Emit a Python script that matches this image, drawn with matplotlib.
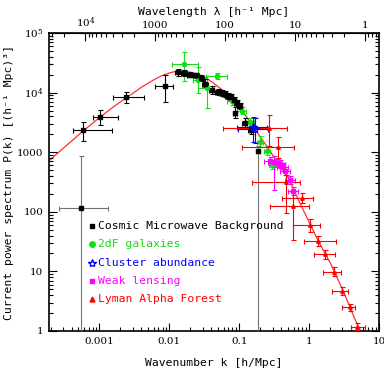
import numpy as np
import matplotlib
matplotlib.use("Agg")
import matplotlib.pyplot as plt

# model curve
curve_k = [1.9e-4, 3.0e-4, 5.8e-4, 1.0e-3, 1.5e-3, 2.0e-3, 3.0e-3, 4.0e-3, 5.3e-3, 6.5e-3,
           8.0e-3, 0.010, 0.0115, 0.013, 0.0145, 0.016, 0.018, 0.021, 0.025, 0.030,
           0.035, 0.042, 0.05, 0.06, 0.07, 0.085, 0.1, 0.12, 0.15, 0.2,
           0.25, 0.3, 0.4, 0.5, 0.7, 1.0, 1.4, 2.0, 2.5, 3.0, 3.8, 4.5, 5.5]
curve_P = [720, 1150, 2250, 3800, 5500, 7000, 9700, 12300, 15000, 17300,
           19500, 21300, 22300, 22900, 23000, 22900, 22500, 21700, 20500, 18800,
           17000, 14700, 12500, 10600, 9000, 7200, 5800, 4300, 3000, 1800,
           1250, 900, 580, 380, 160, 67, 30, 14, 8, 5.0, 2.6, 1.6, 1.0]

# CMB
cmb_k = [5.8e-4, 1.02e-3, 2.4e-3, 8.7e-3, 0.0135, 0.0162, 0.0198, 0.0241, 0.0284, 0.0324,
         0.0404, 0.0497, 0.0567, 0.0625, 0.069, 0.076, 0.084, 0.0927, 0.102, 0.0869,
         0.1205, 0.1455]
cmb_P = [2355, 3945, 8340, 13060, 21900, 21300, 20100, 19400, 17600, 13900,
         11070, 10230, 9840, 9480, 8780, 8280, 7510, 6690, 5960, 4600,
         3055, 2355]
cmb_klo = [4.25e-4, 8.2e-4, 1.55e-3, 6.25e-3, 0.0122, 0.0148, 0.0181, 0.0220, 0.0260, 0.0296,
           0.0370, 0.0455, 0.0520, 0.0575, 0.0635, 0.0700, 0.0775, 0.0855, 0.0940, 0.0820,
           0.1110, 0.1340]
cmb_khi = [1.53e-3, 1.83e-3, 4.4e-3, 0.0114, 0.0150, 0.0177, 0.0216, 0.0263, 0.0310, 0.0354,
           0.0440, 0.0540, 0.0615, 0.0680, 0.0750, 0.0825, 0.0910, 0.1005, 0.1105, 0.0920,
           0.1310, 0.1580]
cmb_Plo = [1560, 2860, 6760, 6870, 19300, 19000, 18000, 17400, 15600, 12300,
           9400, 9100, 8800, 8500, 7900, 7400, 6700, 5950, 5300, 3700,
           2510, 2030]
cmb_Phi = [3250, 5100, 10350, 19700, 24500, 23900, 22500, 21700, 19800, 16700,
           13000, 11500, 11000, 10600, 9800, 9300, 8400, 7500, 6700, 5750,
           3700, 2730]
# two CMB points whose lower error reaches the bottom
cmbw_k = [5.5e-4, 0.187]
cmbw_P = [117, 1047]
cmbw_klo = [2.6e-4, 0.175]
cmbw_khi = [1.32e-3, 0.196]
cmbw_Plo = [0.01, 0.01]
cmbw_Phi = [863, 1250]

# 2dF galaxies
tdf_k = [0.0162, 0.026, 0.0342, 0.0475, 0.0783, 0.108, 0.1423, 0.198, 0.251, 0.293]
tdf_P = [29900, 16200, 11950, 18750, 7310, 4970, 3250, 1500, 1060, 610]
tdf_klo = [0.011, 0.0218, 0.0256, 0.034, 0.066, 0.093, 0.125, 0.180, 0.225, 0.265]
tdf_khi = [0.0254, 0.030, 0.0436, 0.068, 0.092, 0.125, 0.162, 0.218, 0.280, 0.325]
tdf_Plo = [15700, 10000, 5520, 16600, 6300, 4300, 2800, 1200, 900, 520]
tdf_Phi = [48500, 26900, 18900, 21200, 8500, 5750, 3750, 1850, 1250, 720]

# cluster abundance
clu_k = [0.160, 0.166]
clu_P = [2600, 2450]
clu_klo = [0.092, 0.095]
clu_khi = [0.250, 0.255]
clu_Plo = [1500, 1450]
clu_Phi = [3900, 3700]

# weak lensing
wl_k = [0.279, 0.313, 0.346, 0.381, 0.421, 0.45, 0.53, 0.59]
wl_P = [711, 686, 659, 634, 565, 484, 342, 224]
wl_klo = [0.23, 0.26, 0.29, 0.32, 0.35, 0.38, 0.45, 0.50]
wl_khi = [0.33, 0.37, 0.41, 0.45, 0.50, 0.53, 0.62, 0.69]
wl_Plo = [600, 232, 560, 540, 480, 410, 290, 190]
wl_Phi = [840, 863, 780, 745, 665, 570, 405, 265]

# Lyman alpha forest
lya_k = [0.268, 0.357, 0.464, 0.78, 0.591, 1.024, 1.32, 1.71, 2.26, 2.96, 3.81, 4.91]
lya_P = [2520, 1200, 313, 168, 123, 60, 32.4, 19.4, 9.9, 4.74, 2.5, 1.18]
lya_klo = [0.058, 0.109, 0.152, 0.414, 0.279, 0.59, 0.85, 1.18, 1.58, 2.13, 2.96, 4.03]
lya_khi = [0.486, 0.611, 0.736, 1.14, 0.99, 1.42, 2.46, 2.33, 2.9, 3.61, 4.5, 6.25]
lya_Plo = [1270, 800, 95, 141, 33.6, 46.3, 26.7, 16.0, 8.4, 4.02, 2.19, 1.04]
lya_Phi = [4200, 1830, 414, 206, 224, 75.7, 39.3, 22.9, 12.0, 5.53, 2.84, 1.35]

xticks = [1e-3, 1e-2, 0.1, 1, 10]
xticklabels = ["0.001", "0.01", "0.1", "1", "10"]
yticks = [1, 10, 100, 1000, 1e4, 1e5]
yticklabels = ["1", "10", "100", "1000", r"$10^4$", r"$10^5$"]
lticks = [1e4, 1000, 100, 10, 1]
lticklabels = [r"$10^4$", "1000", "100", "10", "1"]

legend_names = ["Cosmic Microwave Background", "2dF galaxies", "Cluster abundance",
                "Weak lensing", "Lyman Alpha Forest"]

plt.rcParams["mathtext.fontset"] = "dejavuserif"
mono = "DejaVu Sans Mono"

fig = plt.figure(figsize=(3.84, 3.73), dpi=100)
ax = fig.add_axes([49 / 384, 1 - 331 / 373, 330 / 384, 298 / 373])
ax.set_xscale("log")
ax.set_yscale("log")

ax.plot(curve_k, curve_P, color="#ff3030", lw=0.9, zorder=1)


def errs(k, P, klo, khi, Plo, Phi):
    k = np.array(k); P = np.array(P)
    xe = [k - np.array(klo), np.array(khi) - k]
    ye = [P - np.array(Plo), np.array(Phi) - P]
    return k, P, xe, ye


def draw(k, P, klo, khi, Plo, Phi, color, marker, ms, ecolor=None, mfc=None):
    k, P, xe, ye = errs(k, P, klo, khi, Plo, Phi)
    ax.errorbar(k, P, xerr=xe, yerr=ye, fmt=marker, color=color, ms=ms,
                mfc=mfc if mfc else color, mec=color, ecolor=ecolor if ecolor else color,
                elinewidth=0.8, capsize=1.8, capthick=0.8, zorder=3)


draw(cmbw_k, cmbw_P, cmbw_klo, cmbw_khi, cmbw_Plo, cmbw_Phi, "black", "s", 2.5, ecolor="0.45")
draw(tdf_k, tdf_P, tdf_klo, tdf_khi, tdf_Plo, tdf_Phi, "#10e010", "o", 3)
draw(cmb_k, cmb_P, cmb_klo, cmb_khi, cmb_Plo, cmb_Phi, "black", "s", 2.5)
draw(clu_k, clu_P, clu_klo, clu_khi, clu_Plo, clu_Phi, "#0000ff", "*", 6, mfc="none")
draw(wl_k, wl_P, wl_klo, wl_khi, wl_Plo, wl_Phi, "#ff00ff", "s", 2.5)
draw(lya_k, lya_P, lya_klo, lya_khi, lya_Plo, lya_Phi, "#ff0000", "^", 2.5)

ax.set_xlim(1.9e-4, 10)
ax.set_ylim(1, 1e5)
ax.set_xticks(xticks)
ax.set_xticklabels(xticklabels)
ax.set_yticks(yticks)
ax.set_yticklabels(yticklabels)
ax.tick_params(which="both", direction="in", top=False, right=True,
               labelsize=7.5, pad=4, width=0.8)
ax.tick_params(which="major", length=6)
ax.tick_params(which="minor", length=3)
for lab in ax.get_xticklabels() + ax.get_yticklabels():
    lab.set_family("DejaVu Serif")
for s in ax.spines.values():
    s.set_linewidth(1.2)

secax = ax.secondary_xaxis("top", functions=(lambda k: 2 * np.pi / k,
                                             lambda l: 2 * np.pi / l))
secax.set_xticks(lticks)
secax.set_xticklabels(lticklabels)
secax.tick_params(which="both", direction="in", labelsize=7.5, pad=2, width=0.8)
secax.tick_params(which="major", length=6)
secax.tick_params(which="minor", length=3)
for lab in secax.get_xticklabels():
    lab.set_family("DejaVu Serif")

# axis titles placed in figure pixels
fig.text(214 / 384, 1 - 363 / 373, "Wavenumber k [h/Mpc]", family=mono, fontsize=8.2,
         ha="center", va="center")
fig.text(214 / 384, 1 - 12 / 373, "Wavelength λ [h⁻¹ Mpc]", family=mono, fontsize=8.2,
         ha="center", va="center")
fig.text(9 / 384, 1 - 182 / 373, "Current power spectrum P(k) [(h⁻¹ Mpc)³]", family=mono,
         fontsize=8.2, rotation=90, ha="center", va="center")

# legend
leg_colors = ["black", "#10e010", "#0000ff", "#ff00ff", "#ff0000"]
leg_markers = ["s", "o", "*", "s", "^"]
leg_mfc = ["black", "#10e010", "none", "#ff00ff", "#ff0000"]
leg_ms = [3, 4, 6, 3, 3.5]
leg_y = [0.352, 0.291, 0.229, 0.169, 0.109]
for name, c, m, fc, s, y in zip(legend_names, leg_colors, leg_markers, leg_mfc, leg_ms, leg_y):
    ax.plot([0.131], [y], marker=m, color=c, mfc=fc, mec=c, ms=s,
            transform=ax.transAxes, clip_on=False)
    ax.text(0.149, y, name, color=c, family=mono, fontsize=8.2,
            va="center", ha="left", transform=ax.transAxes)

fig.savefig("out.png", dpi=100)
